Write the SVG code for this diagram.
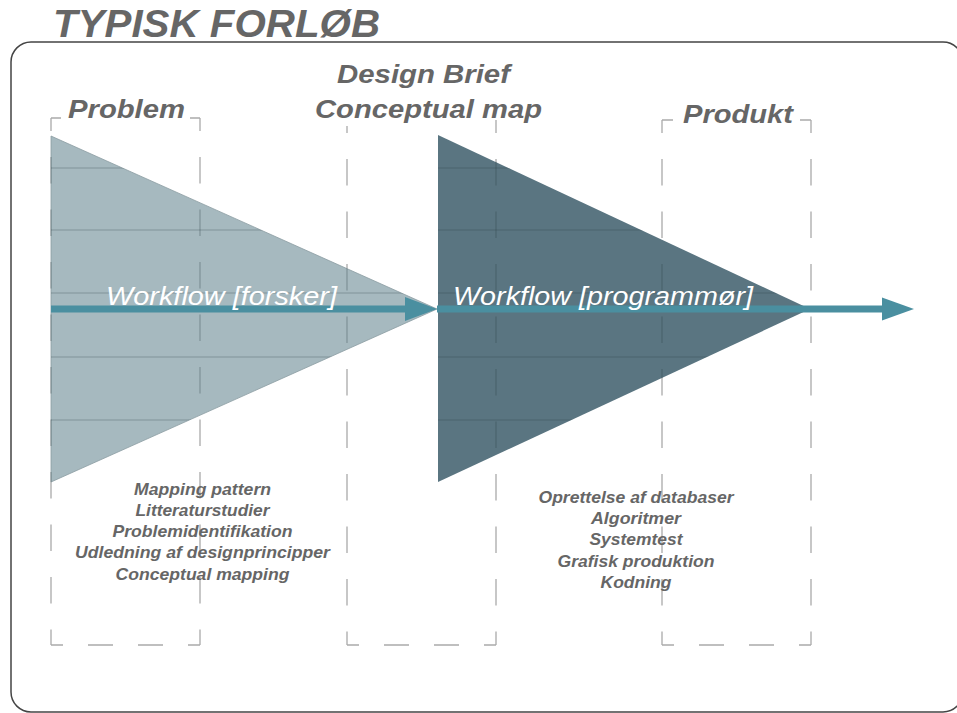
<svg xmlns="http://www.w3.org/2000/svg" xmlns:xlink="http://www.w3.org/1999/xlink" width="957" height="713" viewBox="0 0 957 713">
<style>
.ttl{font-family:"Liberation Sans",Arial,sans-serif;font-weight:bold;font-style:italic;fill:#666}
.hd{font-family:"Liberation Sans",Arial,sans-serif;font-weight:bold;font-style:italic;fill:#666;font-size:26px}
.wf{font-family:"Liberation Sans",Arial,sans-serif;font-style:italic;fill:#fff;font-size:25px}
.ls{font-family:"Liberation Sans",Arial,sans-serif;font-weight:bold;font-style:italic;fill:#666;font-size:17px;text-anchor:middle}
.v{fill:none;stroke-width:1.3;stroke-dasharray:26.5 26;stroke-dashoffset:13.5}
.h{fill:none;stroke-width:1.3;stroke-dasharray:25 25;stroke-dashoffset:13}
.c{fill:none;stroke-width:1.3}
.under{stroke:#aaa}
.over{stroke:#2c3e46;stroke-opacity:0.3}
.grid{stroke:#2c3e46;stroke-opacity:0.3;stroke-width:1.2}
.arrow{fill:#4a8fa0}
</style>
<defs>
<clipPath id="clipTri">
<polygon points="51,136 437,309 51,482"/>
<polygon points="438,135 810,309 438,482"/>
</clipPath>
<g id="dashlines">
<path class="v" d="M51,118V645M200,118V645"/>
<path class="v" d="M347,126V645" style="stroke-dashoffset:19.5"/>
<path class="v" d="M496,120V645M662,120V645M811,120V645"/>
<path class="h" d="M51,645H200M347,645H496M662,645H811"/>
<path class="c" d="M51,118H61M190,118H200M662,120H673M800,120H811"/>
</g>
</defs>
<rect id="frame" x="11" y="42" width="952" height="670" rx="20" fill="none" stroke="#444" stroke-width="1.5"/>
<g id="title"><text class="ttl" x="53" y="37" font-size="38" textLength="327" lengthAdjust="spacingAndGlyphs">TYPISK FORLØB</text></g>
<g id="phase-boxes"><use xlink:href="#dashlines" class="under"/></g>
<g id="triangle-forsker"><polygon points="51,136 437,309 51,482" fill="#a6b9bf" stroke="#8a9ca1" stroke-width="0.8"/></g>
<g id="triangle-programmor"><polygon points="438,135 810,309 438,482" fill="#5a7581"/></g>
<g id="overlay" clip-path="url(#clipTri)">
<use xlink:href="#dashlines" class="over"/>
<path class="grid" d="M51,168H810M51,230H810M51,293H810M51,357H810M51,420H810"/>
</g>
<g id="connectors">
<rect class="arrow" x="51" y="305.5" width="356" height="7"/>
<polygon class="arrow" points="405,297 437,309 405,321"/>
<rect class="arrow" x="437" y="305.5" width="447" height="7"/>
<polygon class="arrow" points="882,297.5 914,309 882,320.5"/>
</g>
<g id="label-problem"><text class="hd" x="68" y="118" textLength="117" lengthAdjust="spacingAndGlyphs">Problem</text></g>
<g id="label-design-brief">
<text class="hd" x="337" y="83" textLength="173" lengthAdjust="spacingAndGlyphs">Design Brief</text>
<text class="hd" x="315" y="118" textLength="227" lengthAdjust="spacingAndGlyphs">Conceptual map</text>
</g>
<g id="label-produkt"><text class="hd" x="683" y="123" textLength="110" lengthAdjust="spacingAndGlyphs">Produkt</text></g>
<g id="workflow-forsker"><text class="wf" x="106" y="305" textLength="231" lengthAdjust="spacingAndGlyphs">Workflow [forsker]</text></g>
<g id="workflow-programmor"><text class="wf" x="453" y="305" textLength="300" lengthAdjust="spacingAndGlyphs">Workflow [programmør]</text></g>
<g id="list-forsker">
<text class="ls" x="202.5" y="495" textLength="137" lengthAdjust="spacingAndGlyphs">Mapping pattern</text>
<text class="ls" x="202.5" y="516" textLength="134" lengthAdjust="spacingAndGlyphs">Litteraturstudier</text>
<text class="ls" x="202.5" y="537" textLength="180" lengthAdjust="spacingAndGlyphs">Problemidentifikation</text>
<text class="ls" x="202.5" y="558" textLength="255" lengthAdjust="spacingAndGlyphs">Udledning af designprincipper</text>
<text class="ls" x="202.5" y="580" textLength="174" lengthAdjust="spacingAndGlyphs">Conceptual mapping</text>
</g>
<g id="list-programmor">
<text class="ls" x="636" y="503" textLength="195" lengthAdjust="spacingAndGlyphs">Oprettelse af databaser</text>
<text class="ls" x="636" y="524" textLength="90" lengthAdjust="spacingAndGlyphs">Algoritmer</text>
<text class="ls" x="636" y="545" textLength="93" lengthAdjust="spacingAndGlyphs">Systemtest</text>
<text class="ls" x="636" y="567" textLength="157" lengthAdjust="spacingAndGlyphs">Grafisk produktion</text>
<text class="ls" x="636" y="588" textLength="71" lengthAdjust="spacingAndGlyphs">Kodning</text>
</g>
</svg>
